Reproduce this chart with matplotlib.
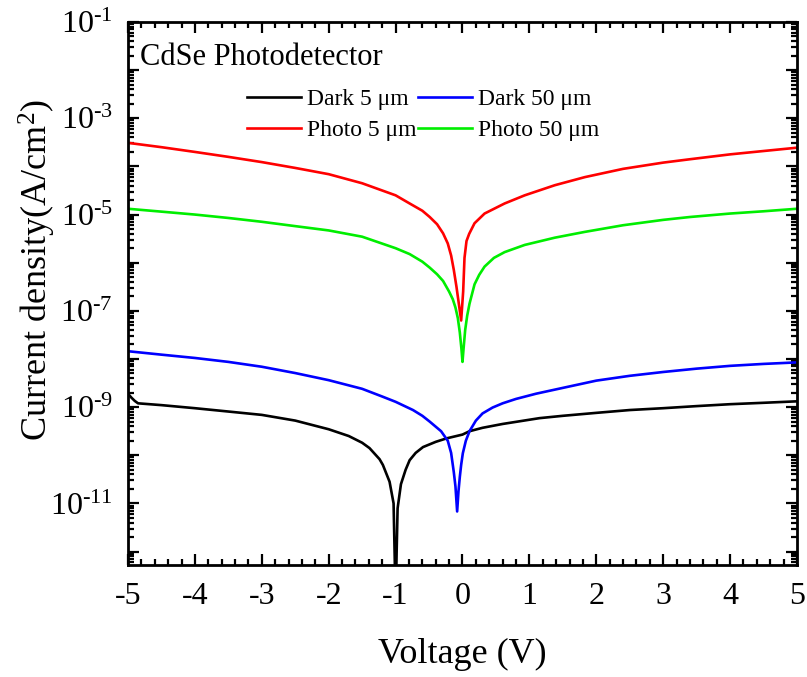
import numpy as np
import matplotlib
matplotlib.use("Agg")
import matplotlib.pyplot as plt
from matplotlib.ticker import LogLocator, FuncFormatter, MultipleLocator, NullFormatter

plt.rcParams['font.family'] = ['Liberation Serif', 'DejaVu Serif']
plt.rcParams['mathtext.fontset'] = 'custom'
plt.rcParams['mathtext.rm'] = 'Liberation Serif'
plt.rcParams['mathtext.it'] = 'Liberation Serif:italic'
plt.rcParams['mathtext.default'] = 'regular'
plt.rcParams['axes.unicode_minus'] = False

# ---- data ----
v_dark5 = [-5, -4.95, -4.9, -4.85, -4.5, -4, -3.5, -3, -2.5, -2, -1.7, -1.5, -1.39, -1.24, -1.19,
           -1.09, -1.03, -1.0, -0.97, -0.92, -0.85, -0.79, -0.7, -0.59, -0.4, -0.24, 0.0, 0.105,
           0.3, 0.6, 1.15, 1.5, 2.0, 2.5, 3.0, 3.5, 4.0, 4.5, 5]
j_dark5 = [1.9e-9, 1.58e-9, 1.35e-9, 1.2e-9, 1.1e-9, 9.5e-10, 8.1e-10, 6.9e-10, 5.25e-10, 3.47e-10,
           2.51e-10, 1.82e-10, 1.41e-10, 8.3e-11, 6.3e-11, 2.82e-11, 1.0e-11, 1e-13, 7.9e-12,
           2.51e-11, 5.0e-11, 7.9e-11, 1.12e-10, 1.48e-10, 1.9e-10, 2.24e-10, 2.69e-10, 3.16e-10,
           3.72e-10, 4.47e-10, 5.9e-10, 6.6e-10, 7.6e-10, 8.7e-10, 9.5e-10, 1.05e-9, 1.15e-9,
           1.23e-9, 1.32e-9]

v_dark50 = [-5, -4.5, -4, -3.5, -3, -2.5, -2, -1.5, -1.2, -1.0, -0.74, -0.6, -0.49, -0.32, -0.22,
            -0.17, -0.13, -0.105, -0.08, -0.06, -0.04, -0.02, 0.005, 0.05, 0.105, 0.2, 0.3, 0.45,
            0.6, 0.8, 1.1, 1.5, 2.0, 2.5, 3.0, 3.5, 4.0, 4.5, 5]
j_dark50 = [1.45e-8, 1.23e-8, 1.05e-8, 8.7e-9, 6.9e-9, 5.1e-9, 3.63e-9, 2.4e-9, 1.66e-9, 1.29e-9,
            8.7e-10, 6.6e-10, 5.0e-10, 3.16e-10, 2.0e-10, 1.12e-10, 4.47e-11, 2.24e-11, 6.8e-12,
            1.78e-11, 3.55e-11, 6.3e-11, 1.1e-10, 2.0e-10, 3.16e-10, 5.25e-10, 7.4e-10, 9.8e-10,
            1.2e-9, 1.48e-9, 1.9e-9, 2.51e-9, 3.55e-9, 4.47e-9, 5.37e-9, 6.3e-9, 7.2e-9, 7.9e-9,
            8.5e-9]

v_photo5 = [-5, -4.5, -4, -3.5, -3, -2.5, -2, -1.5, -1, -0.79, -0.6, -0.49, -0.38, -0.29, -0.22,
            -0.17, -0.13, -0.09, -0.05, -0.02, 0.01, 0.03, 0.06, 0.1, 0.18, 0.33, 0.5, 0.63, 0.93,
            1.38, 1.83, 2.4, 3.0, 3.4, 4.0, 4.5, 5]
j_photo5 = [3.09e-4, 2.51e-4, 2.0e-4, 1.58e-4, 1.23e-4, 9.3e-5, 6.9e-5, 4.47e-5, 2.51e-5, 1.7e-5,
            1.2e-5, 8.9e-6, 6.3e-6, 4.07e-6, 2.51e-6, 1.41e-6, 7.1e-7, 3.16e-7, 1.26e-7, 6.3e-8,
            2.51e-7, 1.26e-6, 2.82e-6, 3.98e-6, 6.6e-6, 1.05e-5, 1.38e-5, 1.7e-5, 2.51e-5, 4.07e-5,
            6.0e-5, 8.9e-5, 1.2e-4, 1.41e-4, 1.78e-4, 2.09e-4, 2.45e-4]

v_photo50 = [-5, -4.5, -4, -3.5, -3, -2.5, -2, -1.5, -1, -0.79, -0.6, -0.49, -0.38, -0.29, -0.2,
             -0.145, -0.105, -0.07, -0.04, -0.015, 0, 0.015, 0.04, 0.07, 0.105, 0.18, 0.25, 0.33,
             0.47, 0.63, 0.93, 1.38, 1.83, 2.4, 3.0, 3.4, 4.0, 4.5, 5]
j_photo50 = [1.32e-5, 1.15e-5, 1.0e-5, 8.5e-6, 7.08e-6, 5.75e-6, 4.68e-6, 3.47e-6, 2.0e-6, 1.51e-6,
             1.05e-6, 7.9e-7, 5.75e-7, 4.17e-7, 2.51e-7, 1.74e-7, 1.17e-7, 7.1e-8, 3.55e-8,
             1.58e-8, 8.7e-9, 1.58e-8, 3.98e-8, 7.9e-8, 1.41e-7, 3.55e-7, 5.6e-7, 8.3e-7, 1.26e-6,
             1.66e-6, 2.34e-6, 3.31e-6, 4.37e-6, 6.0e-6, 7.76e-6, 8.9e-6, 1.05e-5, 1.17e-5, 1.32e-5]

labels = ["Dark 5 \u03bcm", "Photo 5 \u03bcm", "Dark 50 \u03bcm", "Photo 50 \u03bcm"]
colors = ["#000000", "#ff0000", "#0000ff", "#00ee00"]
x_ticks = [-5, -4, -3, -2, -1, 0, 1, 2, 3, 4, 5]

fig = plt.figure(figsize=(8.07, 6.77), dpi=100)
ax = fig.add_axes([0.1586, 0.1654, 0.829, 0.8021])

series = [(v_dark5, j_dark5), (v_photo5, j_photo5), (v_dark50, j_dark50), (v_photo50, j_photo50)]
for (v, j), lab, c in zip(series, labels, colors):
    ax.plot(v, j, color=c, lw=1.9, label=lab)

ax.set_yscale('log')
ax.set_xlim(-5, 5)
ax.set_ylim(10 ** -12.28, 1e-1)

ax.set_xticks(x_ticks)
ax.set_xticklabels([str(t) for t in x_ticks])
ax.xaxis.set_minor_locator(MultipleLocator(0.2))

ax.yaxis.set_major_locator(LogLocator(base=10, numticks=30))
ax.yaxis.set_minor_locator(LogLocator(base=10, subs=np.arange(2, 10), numticks=30))
ax.yaxis.set_minor_formatter(NullFormatter())

def fmt(y, pos):
    e = int(round(np.log10(y)))
    if e % 2 == 0:
        return ''
    return r'$10^{\text{-}%d}$' % abs(e) if e < 0 else r'$10^{%d}$' % e
ax.yaxis.set_major_formatter(FuncFormatter(fmt))

ax.tick_params(which='both', direction='in', top=True, right=True, width=1.6)
ax.tick_params(which='major', length=8, labelsize=23)
ax.tick_params(axis='x', which='major', pad=12)
ax.tick_params(axis='y', which='major', pad=11)
ax.tick_params(which='minor', length=4)
for s in ax.spines.values():
    s.set_linewidth(2.0)

ax.set_xlabel("Voltage (V)", fontsize=26, labelpad=20)
ax.set_ylabel(r"Current density(A/cm$^{2}$)", fontsize=26)
ax.yaxis.set_label_coords(-0.104, 0.543)

ax.text(0.018, 0.92, "CdSe Photodetector", transform=ax.transAxes, fontsize=22,
        ha='left', va='baseline')

ax.legend(ncol=2, loc='upper left', bbox_to_anchor=(0.164, 0.895), frameon=False,
          fontsize=17, handlelength=2.3, handletextpad=0.25, columnspacing=0.05,
          labelspacing=0.4, borderaxespad=0)

fig.savefig("out.png", dpi=100)
